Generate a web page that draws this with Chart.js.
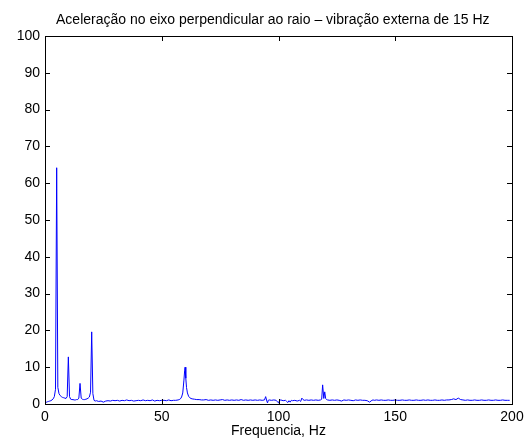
<!DOCTYPE html>
<html>
<head>
<meta charset="utf-8">
<script src="https://cdn.jsdelivr.net/npm/chart.js@4/dist/chart.umd.min.js"></script>
<style>
html,body{margin:0;padding:0;background:#fff;}
#wrap{width:530px;height:443px;position:relative;}
</style>
</head>
<body>
<div id="wrap"><canvas id="c" width="530" height="443"></canvas></div>
<script>
const titleText = "Aceleração no eixo perpendicular ao raio – vibração externa de 15 Hz";
const xLabel = "Frequencia, Hz";
const xTicks = [0, 50, 100, 150, 200];
const yTicks = [0, 10, 20, 30, 40, 50, 60, 70, 80, 90, 100];

const freq = [
0,0.5,1,1.5,2,2.5,3,3.5,4,4.5,5,5.5,6,6.5,7,7.5,8,8.5,9,9.5,10,10.5,11,11.5,12,12.5,13,13.5,14,14.5,15,15.5,16,16.5,17,17.5,18,18.5,19,19.5,20,20.5,21,21.5,22,23,24,25,26,27,28,29,30,
31,32,33,34,35,36,37,38,39,40,41,42,43,44,45,46,47,48,49,50,51,52,53,54,55,56,57,57.5,58,58.5,59,59.5,59.8,60,60.3,60.6,61,61.5,62,62.5,63,64,65,66,67,68,69,70,
71,72,73,74,75,76,77,78,79,80,81,82,83,84,85,86,87,88,89,90,91,92,93,94,94.5,95,95.3,95.6,96,97,98,99,99.5,100,100.5,101,102,103,103.5,104,104.5,105,105.5,106,107,108,109,109.5,110,110.5,111,112,113,114,115,116,117,118,118.5,118.9,119.4,119.8,120.2,120.6,121,122,123,124,125,126,127,128,129,130,
131,132,133,134,135,136,137,138,139,140,140.5,141,142,143,144,145,146,147,148,149,150,151,152,153,154,155,156,157,158,159,160,161,162,163,164,165,166,167,168,169,170,
171,172,173,174,175,176,177,178,179,180,181,182,183,184,185,186,187,188,189,190,191,192,193,194,195,196,197,198,199,200
];
const amp = [
0.35,0.45,0.6,0.7,0.8,0.9,1.1,1.4,2.0,4.0,64.2,4.5,2.8,2.3,2.0,1.8,1.7,1.6,1.5,2.0,12.8,2.0,1.3,1.2,1.2,1.1,1.1,1.2,1.2,1.6,5.6,1.6,1.3,1.2,1.2,1.3,1.4,1.6,1.9,3.2,19.6,2.8,1.0,0.8,0.9,0.7,0.8,0.5,0.8,0.9,0.8,1.0,0.9,
1.0,0.8,1.0,0.9,1.1,0.9,1.0,0.8,0.9,1.0,0.9,1.1,0.9,1.0,0.9,1.1,0.8,1.0,0.9,1.0,1.0,0.9,1.1,0.9,1.0,1.0,1.1,1.2,1.4,1.9,3.0,6.5,9,10.0,7,4.5,3.0,2.1,1.7,1.5,1.4,1.3,1.2,1.2,1.1,1.1,1.2,1.0,
1.1,1.0,1.1,1.0,1.1,1.2,1.0,1.1,1.0,1.1,1.0,1.1,1.0,1.2,1.0,1.1,1.0,1.1,1.0,1.1,1.0,1.1,1.0,1.1,2.0,0.8,0.3,1.0,1.1,1.0,1.1,1.0,0.6,0.3,1.0,1.1,0.9,1.0,0.7,0.4,0.9,0.5,1.0,0.9,1.0,0.8,1.0,0.7,1.6,1.2,1.0,1.1,1.0,1.1,1.0,1.1,1.0,1.1,1.3,5.2,1.5,3.3,1.5,1.2,1.1,1.0,1.1,1.0,1.1,1.0,0.8,1.1,1.0,
1.1,1.0,0.9,1.1,1.0,1.1,1.0,1.0,0.9,0.5,1.0,1.1,1.0,1.1,1.0,1.1,1.0,1.0,1.1,1.0,1.0,1.1,1.0,1.0,1.1,1.0,1.0,1.1,1.0,1.0,1.1,1.0,1.0,1.1,1.0,1.1,1.0,1.0,1.1,1.0,1.0,
1.1,1.0,1.1,1.1,1.2,1.4,1.2,1.6,1.2,1.1,1.0,1.1,1.0,1.0,1.1,1.0,1.0,1.1,1.0,1.0,1.1,1.0,1.0,1.1,1.0,1.0,1.1,1.0,1.0,1.0
];

const points = freq.map((f, i) => ({x: f, y: amp[i]}));
const FONT = "'Liberation Sans', Arial, Helvetica, sans-serif";

const boxTicks = {
  id: 'boxTicks',
  afterDraw(chart) {
    const {ctx, chartArea: a, scales: {x, y}} = chart;
    const L = 5;
    ctx.save();
    ctx.strokeStyle = '#000';
    ctx.lineWidth = 1;
    ctx.beginPath();
    xTicks.forEach(v => {
      const px = Math.round(x.getPixelForValue(v)) + 0.5;
      ctx.moveTo(px, a.bottom); ctx.lineTo(px, a.bottom - L);
      ctx.moveTo(px, a.top); ctx.lineTo(px, a.top + L);
    });
    yTicks.forEach(v => {
      const py = Math.round(y.getPixelForValue(v)) + 0.5;
      ctx.moveTo(a.left, py); ctx.lineTo(a.left + L, py);
      ctx.moveTo(a.right, py); ctx.lineTo(a.right - L, py);
    });
    ctx.stroke();
    ctx.strokeRect(Math.round(a.left) + 0.5, Math.round(a.top) + 0.5,
                   Math.round(a.right - a.left), Math.round(a.bottom - a.top));
    // title
    ctx.fillStyle = '#000';
    ctx.font = '14px ' + FONT;
    ctx.textAlign = 'center';
    ctx.textBaseline = 'alphabetic';
    const cx = (chart.width / 2 + (a.left + a.right) / 2) / 2 + 1;
    ctx.fillText(titleText, cx, 24);
    ctx.restore();
  }
};

new Chart(document.getElementById('c'), {
  type: 'scatter',
  data: {
    datasets: [{
      data: points,
      showLine: true,
      borderColor: '#0000ff',
      borderWidth: 1,
      pointRadius: 0,
      tension: 0
    }]
  },
  options: {
    responsive: false,
    animation: false,
    devicePixelRatio: 1,
    layout: {padding: {left: 0, right: 18, top: 36, bottom: 0}},
    plugins: {
      legend: {display: false},
      tooltip: {enabled: false},
      title: {display: false}
    },
    scales: {
      x: {
        type: 'linear',
        min: 0, max: 200,
        afterBuildTicks: s => { s.ticks = xTicks.map(v => ({value: v})); },
        afterFit: s => { s.height = 39; },
        grid: {display: false, drawTicks: false},
        border: {display: false},
        ticks: {color: '#000', padding: 5, maxRotation: 0, font: {family: FONT, size: 14}},
        title: {display: true, text: xLabel, color: '#000', font: {family: FONT, size: 14}, padding: {top: 0, bottom: 3}}
      },
      y: {
        type: 'linear',
        min: 0, max: 100,
        afterBuildTicks: s => { s.ticks = yTicks.map(v => ({value: v})); },
        afterFit: s => { s.width = 45; },
        grid: {display: false, drawTicks: false},
        border: {display: false},
        ticks: {color: '#000', padding: 5, font: {family: FONT, size: 14}}
      }
    }
  },
  plugins: [boxTicks]
});
</script>
</body>
</html>
